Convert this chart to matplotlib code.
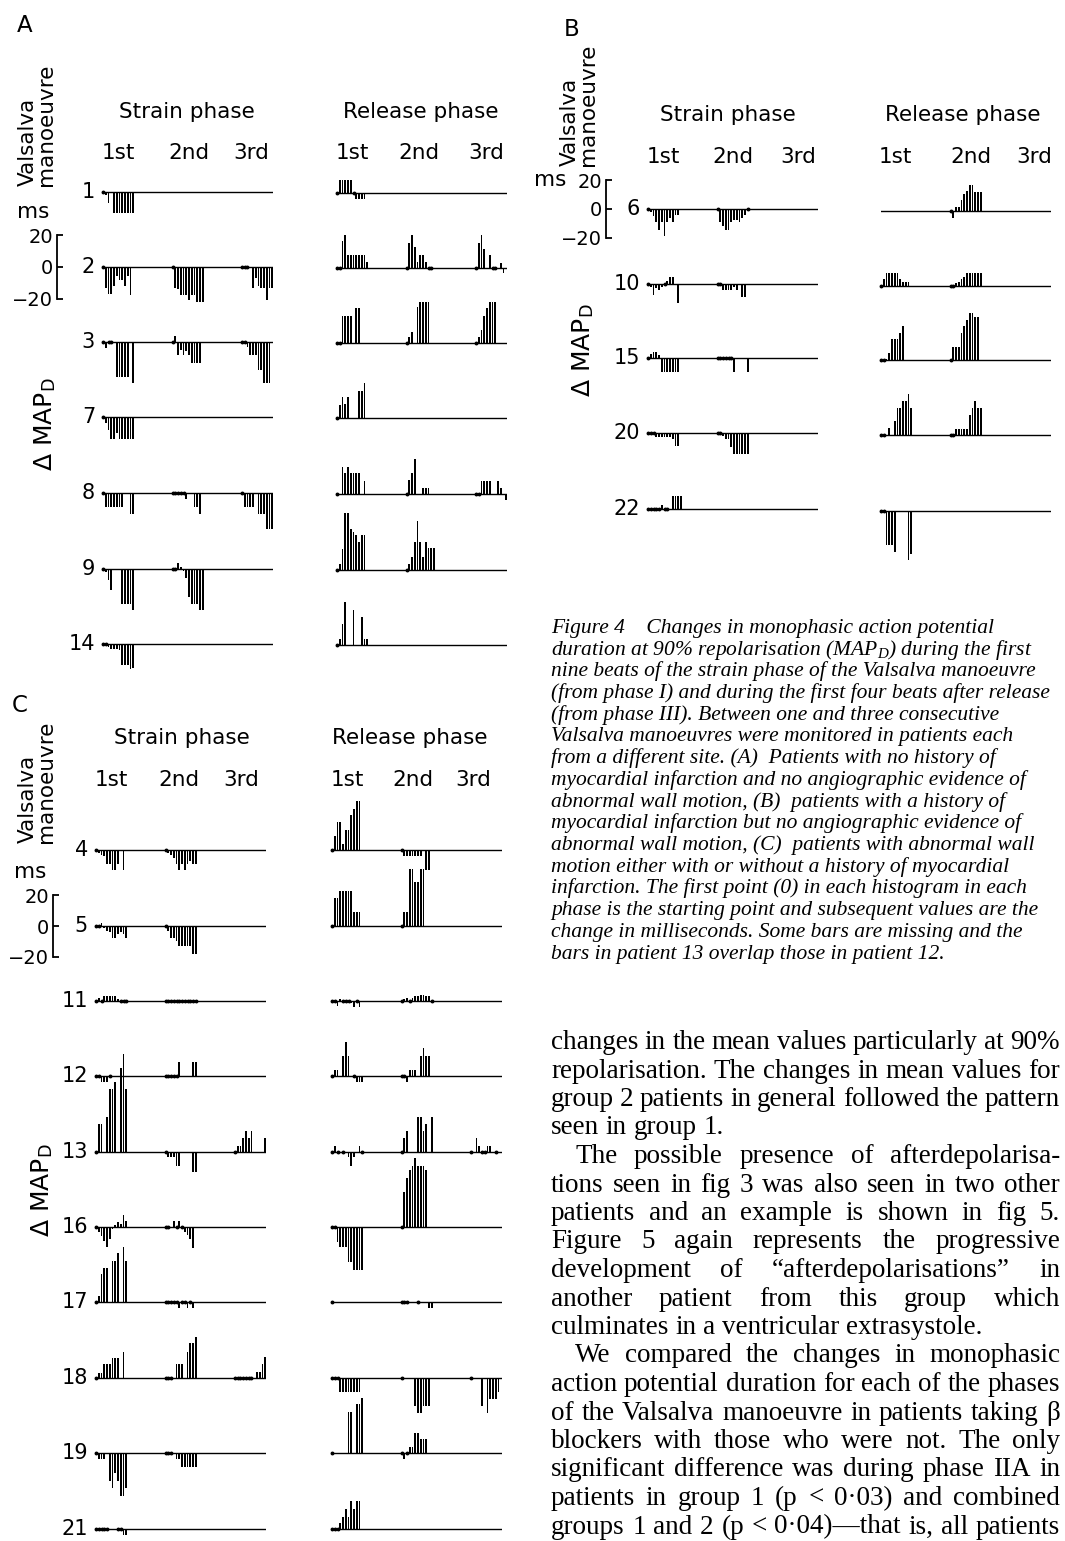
import numpy as np
import matplotlib
matplotlib.use("Agg")
import matplotlib.pyplot as plt

plt.rcParams['font.family'] = ['DejaVu Sans']
plt.rcParams['mathtext.fontset'] = 'custom'
plt.rcParams['mathtext.it'] = 'Liberation Serif:italic'
plt.rcParams['mathtext.rm'] = 'Liberation Serif:italic'
plt.rcParams['mathtext.sf'] = 'DejaVu Sans'

n = np.nan

# ---------------- data: change in MAPd (ms), one list per manoeuvre ----------------
# panel A
a1_s = [[0, -2, -7, n, -13, -13, -13, -13, -13, -13, -13, -13]]
a1_r = [[0, 8, 8, 8, 8, 8, 0, -4, -4, -4, -4]]
a2_s = [[0, -13, -17, -17, -12, -6, -8, -8, -12, -6, -18],
        [0, -13, -14, -18, -18, -18, -21, -18, -18, -22, -22, -22],
        [0, 0, 0, n, -13, -7, -12, -13, -13, -21, -13, -13]]
a2_r = [[0, 0, 17, 21, 8, 8, 8, 8, 8, 8, 8, 4],
        [0, 16, 21, 13, 4, 8, 8, 4, 0, 0],
        [0, 16, 21, 12, n, 8, 0, 0, n, 3, -3]]
a3_s = [[0, -4, 0, 0, n, -22, -22, -22, -22, -22, n, -26],
        [0, 4, -8, -5, -8, -6, -8, -13, -13, -13, -13],
        [0, 0, -3, -8, -8, -8, -18, -18, -26, -26, -26]]
a3_r = [[0, 0, 17, 17, 17, 17, n, 22, 22],
        [0, 4, 7, n, 23, 26, 26, 26, 26],
        [0, 4, 8, 17, 22, 26, 26, 26]]
a7_s = [[0, -4, -8, -14, -14, -10, -14, -14, -14, -14, -14, -14]]
a7_r = [[0, 8, 13, 9, 13, n, n, n, 17, 17, 22]]
a8_s = [[0, -9, -9, -9, -9, -9, -9, -9, n, n, -13, -13],
        [0, 0, 0, 0, 0, -4, n, n, -9, -9, -13],
        [0, -9, -9, -9, -9, n, -13, -13, -13, -23, -23, -23]]
a8_r = [[0, n, 17, 13, 17, 13, 13, 13, 13, n, 8],
        [0, 9, 13, 22, n, n, 4, 4, 4],
        [0, 0, 8, 8, 8, 8, n, n, 8, 4, n, -4]]
a9_s = [[0, -2, -7, -13, n, n, n, -22, -22, -22, -22, -26],
        [0, 0, 4, 1, -1, -6, -18, -22, -22, -22, -26, -26]]
a9_r = [[0, 4, 13, 36, 36, 26, 24, 22, 18, 22, 22],
        [0, 4, 8, 18, 31, 18, 8, 18, 14, 14, 14]]
a14_s = [[0, 0, -2, -3, -3, -3, -4, -13, -13, -13, -16, -15]]
a14_r = [[0, 4, 13, 27, n, n, 22, n, n, 18, 4, 4]]

# panel B
b6_s = [[0, -2, -5, -9, -15, -9, -19, -9, -6, -9, -4, -4],
        [0, -9, -12, -15, -15, -9, -8, -8, -9, -6, -4, 0]]
b6_r = [None, [0, -5, 3, 3, 8, 12, 14, 18, 18, 13, 13, 13]]
b10_s = [[0, -2, -8, -3, -4, -2, 0, 2, 5, 5, -1, -13],
         [0, 0, -4, -4, -4, -4, -2, -4, n, -9, -9]]
b10_r = [[0, 5, 9, 9, 9, 9, 9, 5, 3, 3, 3],
         [0, 0, 2, 3, 5, 6, 9, 9, 9, 9, 9, 9]]
b15_s = [[0, 3, 4, 4, 2, -10, -10, -10, -10, -10, -10, -10],
         [0, 0, 0, 0, 0, 0, -10, n, n, n, n, -10]]
b15_r = [[0, 0, 1, 5, 15, 15, 15, 19, 24],
         [0, 9, 9, 9, 19, 24, 28, 33, 33, 30, 30]]
b20_s = [[0, 0, 0, -3, -3, -3, -3, -3, -3, -4, -9, -9],
         [0, 0, -2, -4, -4, -10, -15, -15, -15, -15, -15, -15]]
b20_r = [[0, 0, n, 5, -1, 10, 19, 19, 24, 24, 29, 19],
         [0, 0, 4, 4, 4, 4, 4, 14, 19, 24, 19, 19]]
b22_s = [[0, 0, 0, 0, 0, 3, 0, 0, -1, 9, 9, 9, 9]]
b22_r = [[0, 0, -24, -24, -24, -29, n, n, n, n, -34, -30]]

# panel C
c4_s = [[0, -2, -3, -4, -9, -9, -13, -13, -9, n, -13],
        [0, -2, -3, -5, -9, -13, -9, -13, -9, -7, -9, -9]]
c4_r = [[0, 9, 18, 18, 4, 13, 13, 23, 27, 32, 32],
        [0, -4, -4, -4, -4, -4, -4, -4, n, -13, -13]]
c5_s = [[0, 0, 2, -1, -3, -4, -8, -8, -5, -4, -5, -8],
        [0, -3, -8, -8, -10, -13, -13, -13, -13, -13, -18, -18]]
c5_r = [[0, 18, 18, 23, 23, 23, 23, 23, 9, 9, 9],
        [0, 9, 9, 37, 37, 29, 29, 37, 37]]
c11_s = [[0, 2, 0, 3, 3, 3.5, 3.5, 3.5, 1.5, 0, 0, 0],
         [0, 0, 0, 0, 0, 0, 0, 0, 0, 0, 0, 0]]
c11_r = [[0, 0, -3, 1, 0, 0, 0, -1, -4, 0, -4],
         [0, 1, 2, 0, 2, 3, 3.5, 4, 4, 3.5, 3, 0]]
c12_s = [[0, 0, -4, -4, -4, 0],
         [0, 0, 0, 0, 0, 9, n, n, n, n, 9, 9]]
c12_r = [[0, 4, 4, n, 13, 22, 13, n, 0, -4, -4, -4],
         [0, 0, -4, 4, 4, 4, n, 13, 18, 13, 13]]
c13_s = [[0, 18, 18, n, 23, 41, 41, 46, n, 55, 64, 41],
         [0, -3, -3, -3, -9, -9, n, n, n, n, -13, -13],
         [0, 4, 4, 9, 14, 9, 14, n, n, n, n, 9]]
c13_r = [[0, 4, 0, n, 0, n, -3, -9, -3, n, 4, 0],
         [0, 9, 14, n, n, n, 23, 23, 14, 18, n, 23],
         [0, n, 9, 4, 0, 0, 4, 4, n, 0]]
c16_s = [[0, -3, -6, -9, -13, -8, -1, 1, 3, 2, 8, 4],
         [0, 0, n, 4, 0, 4, 0, -3, -5, -8, -14]]
c16_r = [[0, 0, -10, -13, -13, -13, -23, -23, -28, -28, -28, -28],
         [0, 23, 32, 37, 40, 45, 40, 40, 40, 37]]
c17_s = [[0, 4, 18, 22, 22, n, 27, 27, 32, n, 36, 27],
         [0, 0, 0, 0, 0, -4, 0, 0, -4, 0, -4]]
c17_r = [[0],
         [0, 0, 0, n, n, n, 0, n, n, n, -4, -4]]
c18_s = [[0, 3, 3, 9, 9, 9, 13, 13, 13, n, 17],
         [0, 0, 0, n, 9, 9, 9, n, 17, 23, 23, 27],
         [0, 0, 0, 0, 0, 0, 0, n, 4, 4, 9, 14]]
c18_r = [[0, 0, 0, -9, -9, -9, -9, -9, -9, -9, -9],
         [0, n, n, n, n, -18, -23, -23, -18, -18, -18],
         [0, n, n, n, -18, n, -23, -14, -14, -14, -9]]
c19_s = [[0, -4, -4, -4, n, -18, -23, -13, -18, -28, -28, -23],
         [0, 0, 0, n, -4, -4, -9, -9, -9, -9, -9, -9]]
c19_r = [[0, n, n, n, n, n, 27, 27, n, 32, 32, 36],
         [0, -4, 0, 4, 4, 13, 13, 9, 9, 9]]
c21_s = [[0, 0, 0, 0, 0, n, n, n, 0, 0, -4, -4]]
c21_r = [[0, 0, 0, 4, 8, 13, 8, 18, 13, 18, 18]]

patients_a = ['1', '2', '3', '7', '8', '9', '14']
patients_b = ['6', '10', '15', '20', '22']
patients_c = ['4', '5', '11', '12', '13', '16', '17', '18', '19', '21']

strain_a = [a1_s, a2_s, a3_s, a7_s, a8_s, a9_s, a14_s]
release_a = [a1_r, a2_r, a3_r, a7_r, a8_r, a9_r, a14_r]
strain_b = [b6_s, b10_s, b15_s, b20_s, b22_s]
release_b = [b6_r, b10_r, b15_r, b20_r, b22_r]
strain_c = [c4_s, c5_s, c11_s, c12_s, c13_s, c16_s, c17_s, c18_s, c19_s, c21_s]
release_c = [c4_r, c5_r, c11_r, c12_r, c13_r, c16_r, c17_r, c18_r, c19_r, c21_r]

manoeuvres = ['1st', '2nd', '3rd']

caption = [
    "Figure 4    Changes in monophasic action potential",
    "duration at 90% repolarisation ($MAP_D$) during the first",
    "nine beats of the strain phase of the Valsalva manoeuvre",
    "(from phase I) and during the first four beats after release",
    "(from phase III). Between one and three consecutive",
    "Valsalva manoeuvres were monitored in patients each",
    "from a different site. (A)  Patients with no history of",
    "myocardial infarction and no angiographic evidence of",
    "abnormal wall motion, (B)  patients with a history of",
    "myocardial infarction but no angiographic evidence of",
    "abnormal wall motion, (C)  patients with abnormal wall",
    "motion either with or without a history of myocardial",
    "infarction. The first point (0) in each histogram in each",
    "phase is the starting point and subsequent values are the",
    "change in milliseconds. Some bars are missing and the",
    "bars in patient 13 overlap those in patient 12.",
]

# (text, indented, justified)
body = [
    ("changes in the mean values particularly at 90%", False, True),
    ("repolarisation. The changes in mean values for", False, True),
    ("group 2 patients in general followed the pattern", False, True),
    ("seen in group 1.", False, False),
    ("The possible presence of afterdepolarisa-", True, True),
    ("tions seen in fig 3 was also seen in two other", False, True),
    ("patients and an example is shown in fig 5.", False, True),
    ("Figure 5 again represents the progressive", False, True),
    ("development of \u201cafterdepolarisations\u201d in", False, True),
    ("another patient from this group which", False, True),
    ("culminates in a ventricular extrasystole.", False, False),
    ("We compared the changes in monophasic", True, True),
    ("action potential duration for each of the phases", False, True),
    ("of the Valsalva manoeuvre in patients taking \u03b2", False, True),
    ("blockers with those who were not. The only", False, True),
    ("significant difference was during phase IIA in", False, True),
    ("patients in group 1 (p < 0\u00b703) and combined", False, True),
    ("groups 1 and 2 (p < 0\u00b704)\u2014that is, all patients", False, True),
]

# ---------------- layout (pixels of the 1065 x 1541 page) ----------------
W, H = 1065, 1541
SLOT = 2.75      # px per beat
GROUP = 69.5     # px between manoeuvres
LINE = 170       # px length of a baseline
LO, HI = 45, 70  # ms range of each strip
FS = 15.5        # headings

fig = plt.figure(figsize=(W / 100, H / 100), dpi=100)
fig.patch.set_facecolor('white')


def fx(x):
    return x / W


def fy(y):
    return 1 - y / H


def strip(x0, base, groups, scale):
    ax = fig.add_axes([fx(x0), fy(base + LO * scale), LINE / W, (LO + HI) * scale / H])
    ax.set_xlim(0, LINE / SLOT)
    ax.set_ylim(-LO, HI)
    ax.axis('off')
    ax.patch.set_alpha(0)
    ax.axhline(0, color='black', lw=1.0)
    for g, vals in enumerate(groups):
        if vals is None:
            continue
        v = np.array(vals, dtype=float)
        x = g * GROUP / SLOT + np.arange(len(v))
        bars = ~np.isnan(v) & (v != 0)
        ax.bar(x[bars], v[bars], width=0.6, color='black', lw=0)
        zero = v == 0
        ax.plot(x[zero], v[zero], 'o', ms=1.8, color='black', clip_on=False)


def scale_bar(x, base, scale, ms_xy):
    ax = fig.add_axes([fx(x), fy(base + 20 * scale), 4 / W, 40 * scale / H])
    ax.set_ylim(-20, 20)
    ax.set_xticks([])
    ax.set_yticks([-20, 0, 20])
    ax.set_yticklabels(['\u221220', '0', '20'])
    for s in ['top', 'right', 'bottom']:
        ax.spines[s].set_visible(False)
    ax.spines['left'].set_linewidth(1.3)
    ax.patch.set_alpha(0)
    ax.tick_params(axis='y', direction='in', length=4, width=1.3, labelsize=14, pad=3)
    fig.text(fx(ms_xy[0]), fy(ms_xy[1]), 'ms', fontsize=FS, ha='center', va='center')


def panel(letter, letter_xy, vm_xy, head_y, strain_x, release_x, phase_cx,
          num_y, num_x, patients, bases, strains, releases, scale, rel_dy,
          map_xy, bar_x, bar_row, ms_xy):
    fig.text(fx(letter_xy[0]), fy(letter_xy[1]), letter, fontsize=16.5, ha='center', va='center')
    fig.text(fx(vm_xy[0]), fy(vm_xy[1]), 'Valsalva\nmanoeuvre', rotation=90, fontsize=FS,
             ha='center', va='bottom', multialignment='left', linespacing=0.9)
    fig.text(fx(phase_cx[0]), fy(head_y), 'Strain phase', fontsize=FS, ha='center', va='center')
    fig.text(fx(phase_cx[1]), fy(head_y), 'Release phase', fontsize=FS, ha='center', va='center')
    for k, lab in enumerate(manoeuvres):
        fig.text(fx(num_x[0][k]), fy(num_y), lab, fontsize=FS, ha='center', va='center')
        fig.text(fx(num_x[1][k]), fy(num_y), lab, fontsize=FS, ha='center', va='center')
    for p, b, s, r in zip(patients, bases, strains, releases):
        fig.text(fx(strain_x - 8), fy(b), p, fontsize=15, ha='right', va='center')
        strip(strain_x, b, s, scale)
        strip(release_x, b + rel_dy, r, scale)
    fig.text(fx(map_xy[0]), fy(map_xy[1]), '\u0394 MAP$_\\mathsf{D}$', rotation=90,
             fontsize=18, ha='center', va='center')
    scale_bar(bar_x, bases[bar_row], scale, ms_xy)


panel('A', (25, 25), (37, 186), 112, 103, 337, (187, 421), 153,
      ([118, 189, 251], [352, 419, 486]), patients_a,
      [192, 267, 342, 417, 493, 569, 644], strain_a, release_a, 1.58, 1,
      (45, 424), 57, 1, (33, 212))
panel('B', (572, 30), (579, 166), 115, 648, 881, (728, 963), 157,
      ([663, 733, 798], [895, 971, 1034]), patients_b,
      [209, 284, 358, 433, 509], strain_b, release_b, 1.43, 2,
      (583, 350), 606, 0, (550, 180))
panel('C', (20, 705), (37, 843), 738, 96, 332, (182, 410), 780,
      ([111, 179, 241], [347, 413, 473]), patients_c,
      [850, 926, 1001, 1076, 1152, 1227, 1302, 1378, 1453, 1529], strain_c, release_c,
      1.53, 0, (42, 1190), 53, 1, (30, 872))

# ---------------- caption ----------------
for i, line in enumerate(caption):
    fig.text(fx(551), fy(633 + i * 21.7), line, fontsize=15.5, family='Liberation Serif',
             style='italic', ha='left', va='baseline')

# ---------------- body text, justified ----------------
renderer = fig.canvas.get_renderer()
left, right, fs = 551, 1060, 19.5
for i, (line, indent, just) in enumerate(body):
    y = 1049 + i * 28.5
    x_start = left + (24 if indent else 0)
    words = line.split(' ')
    ts = [fig.text(fx(x_start), fy(y), w, fontsize=fs, family='Liberation Serif',
                   ha='left', va='baseline') for w in words]
    widths = [t.get_window_extent(renderer).width for t in ts]
    if just and len(words) > 1:
        gap = (right - x_start - sum(widths)) / (len(words) - 1)
    else:
        gap = fs * 100 / 72 * 0.25
    x = x_start
    for t, w in zip(ts, widths):
        t.set_x(fx(x))
        x += w + gap

fig.savefig('out.png', dpi=100, facecolor='white')
